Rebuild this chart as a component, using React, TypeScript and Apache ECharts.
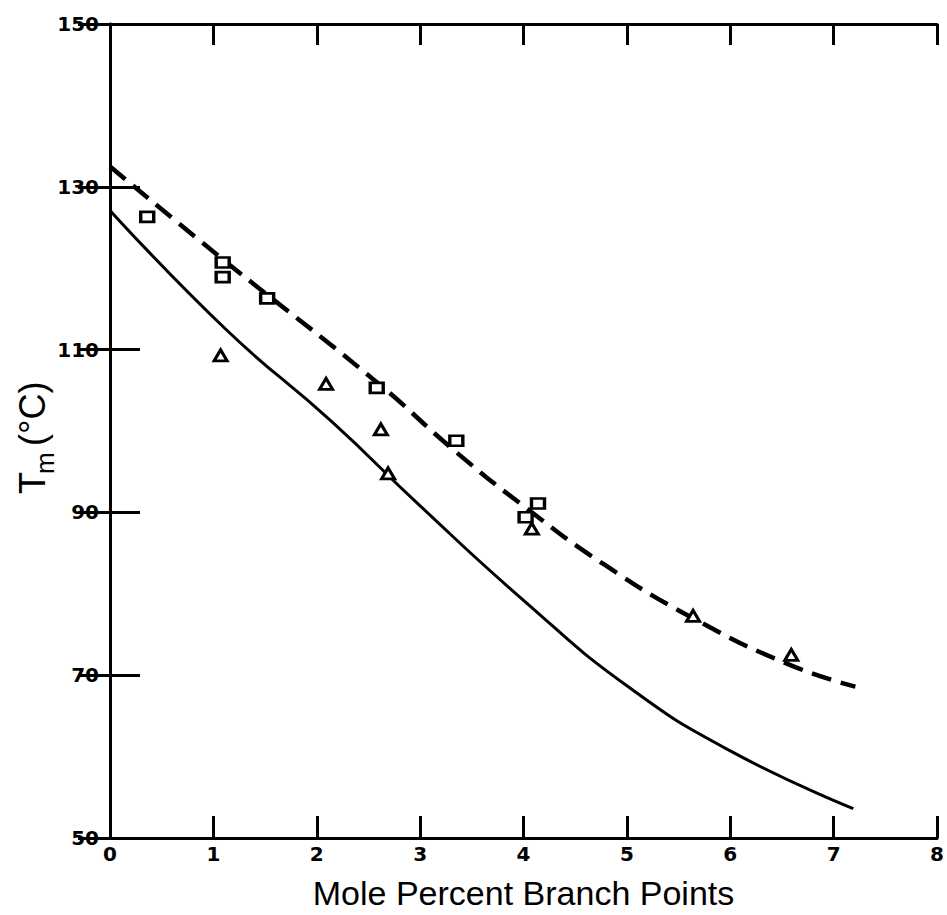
import React, { useEffect, useRef } from "react";
import * as echarts from "echarts";

const xTicks = [0, 1, 2, 3, 4, 5, 6, 7, 8];
const yTicks = [50, 70, 90, 110, 130, 150];

// Open squares
const squarePoints: [number, number][] = [
  [0.36, 126.3],
  [1.09, 120.7],
  [1.09, 118.9],
  [1.52, 116.3],
  [2.58, 105.3],
  [3.35, 98.8],
  [4.02, 89.4],
  [4.14, 91.1],
];

// Open triangles
const trianglePoints: [number, number][] = [
  [1.07, 109.3],
  [2.09, 105.8],
  [2.62, 100.2],
  [2.69, 94.8],
  [4.08, 88.0],
  [5.64, 77.3],
  [6.59, 72.5],
];

// Dashed curve
const dashedCurve: [number, number][] = [
  [0, 132.5],
  [1.09, 121.1],
  [2.58, 106.0],
  [3.34, 97.5],
  [4.04, 90.4],
  [4.78, 83.6],
  [5.64, 77.0],
  [6.57, 71.3],
  [7.21, 68.6],
];

// Solid curve
const solidCurve: [number, number][] = [
  [0, 127.1],
  [1.12, 112.5],
  [2.14, 101.2],
  [3.0, 90.8],
  [4.0, 79.2],
  [5.0, 68.7],
  [6.0, 60.7],
  [7.19, 53.6],
];

const FONT = "Liberation Sans, Arial, Helvetica, sans-serif";
const TICK_FONT = "DejaVu Sans, Liberation Sans, Arial, sans-serif";

export default function App() {
  const ref = useRef<HTMLDivElement>(null);

  useEffect(() => {
    if (!ref.current) return;
    const chart = echarts.init(ref.current, null, { renderer: "svg" });

    const axisLine = { show: true, lineStyle: { color: "#000", width: 3 } };
    const tickStyle = { color: "#000", width: 3 };
    const tickLabel = {
      show: true,
      color: "#000",
      fontFamily: TICK_FONT,
      fontWeight: "bold",
      fontSize: 20,
    };

    chart.setOption({
      animation: false,
      backgroundColor: "#fff",
      grid: { left: 110, right: 5, top: 24, bottom: 63, containLabel: false },
      xAxis: [
        {
          type: "value",
          position: "bottom",
          min: xTicks[0],
          max: xTicks[xTicks.length - 1],
          interval: 1,
          axisLine,
          axisTick: { show: true, inside: true, length: 22, lineStyle: tickStyle },
          axisLabel: { ...tickLabel, margin: 6 },
          splitLine: { show: false },
          name: "Mole Percent Branch Points",
          nameLocation: "middle",
          nameGap: 38,
          nameTextStyle: { color: "#000", fontFamily: FONT, fontSize: 34 },
        },
        {
          type: "value",
          position: "top",
          min: xTicks[0],
          max: xTicks[xTicks.length - 1],
          interval: 1,
          axisLine,
          axisTick: { show: true, inside: true, length: 21, lineStyle: tickStyle },
          axisLabel: { show: false },
          splitLine: { show: false },
        },
      ],
      yAxis: [
        {
          type: "value",
          position: "left",
          min: yTicks[0],
          max: yTicks[yTicks.length - 1],
          interval: 20,
          axisLine,
          axisTick: { show: true, inside: true, length: 30, lineStyle: tickStyle },
          axisLabel: { ...tickLabel, margin: 11 },
          splitLine: { show: false },
        },
        {
          type: "value",
          position: "right",
          min: yTicks[0],
          max: yTicks[yTicks.length - 1],
          interval: 20,
          axisLine,
          axisTick: { show: true, inside: true, length: 32, lineStyle: tickStyle },
          axisLabel: { show: false },
          splitLine: { show: false },
        },
      ],
      graphic: [
        {
          type: "group",
          x: 50,
          y: 494,
          rotation: Math.PI / 2,
          children: [
            {
              type: "text",
              x: 0,
              y: 0,
              style: {
                text: "T",
                fill: "#000",
                fontFamily: FONT,
                fontSize: 36,
                textAlign: "left",
                textVerticalAlign: "bottom",
              },
            },
            {
              type: "text",
              x: 20,
              y: 8,
              style: {
                text: "m",
                fill: "#000",
                fontFamily: FONT,
                fontSize: 26,
                textAlign: "left",
                textVerticalAlign: "bottom",
              },
            },
            {
              type: "text",
              x: 48,
              y: 0,
              style: {
                text: "(°C)",
                fill: "#000",
                fontFamily: FONT,
                fontSize: 36,
                textAlign: "left",
                textVerticalAlign: "bottom",
              },
            },
          ],
        },
      ],
      series: [
        {
          type: "line",
          name: "dashed",
          data: dashedCurve,
          smooth: 0.5,
          showSymbol: false,
          symbol: "none",
          lineStyle: { color: "#000", width: 4.5, type: [20, 10] },
          z: 2,
        },
        {
          type: "line",
          name: "solid",
          data: solidCurve,
          smooth: 0.5,
          showSymbol: false,
          symbol: "none",
          lineStyle: { color: "#000", width: 3 },
          z: 2,
        },
        {
          type: "scatter",
          name: "squares",
          data: squarePoints,
          symbol: "rect",
          symbolSize: [13, 10],
          itemStyle: { color: "#fff", borderColor: "#000", borderWidth: 3, opacity: 1 },
          z: 3,
        },
        {
          type: "scatter",
          name: "triangles",
          data: trianglePoints,
          symbol: "triangle",
          symbolSize: [13, 11],
          itemStyle: { color: "#fff", borderColor: "#000", borderWidth: 3, opacity: 1 },
          z: 3,
        },
      ],
    });

    return () => chart.dispose();
  }, []);

  return (
    <div
      ref={ref}
      style={{ position: "absolute", left: 0, top: 0, width: 947, height: 915 }}
    />
  );
}
